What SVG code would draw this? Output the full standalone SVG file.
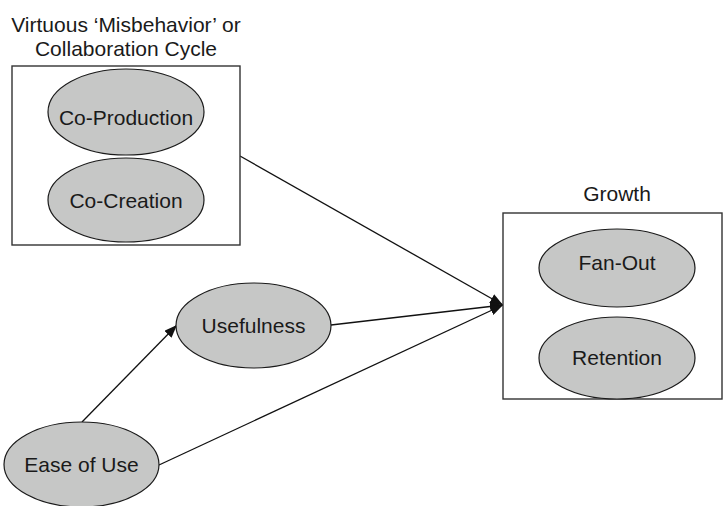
<svg xmlns="http://www.w3.org/2000/svg" width="724" height="506" viewBox="0 0 724 506">
<defs>
<style>
.box{fill:#fff;stroke:#333;stroke-width:1.4}
.el{fill:#c6c7c6;stroke:#1a1a1a;stroke-width:1.2}
.t{font-family:"Liberation Sans",Arial,sans-serif;font-size:21px;fill:#1a1a1a;text-anchor:middle}
.c{stroke:#111;stroke-width:1.3;fill:none;marker-end:url(#ah)}
</style>
<marker id="ah" markerWidth="13" markerHeight="10" refX="13" refY="5" orient="auto" markerUnits="userSpaceOnUse">
<path d="M0,0 L13,5 L0,10 z" fill="#111"/>
</marker>
</defs>
<rect width="724" height="506" fill="#fff"/>
<g id="connectors">
<line class="c" x1="240" y1="156" x2="503" y2="305"/>
<line class="c" x1="331" y1="325" x2="503" y2="305"/>
<line class="c" x1="159" y1="465" x2="503" y2="305"/>
<line class="c" x1="82" y1="422" x2="177" y2="325"/>
</g>
<g id="collab">
<text class="t" x="126" y="32">Virtuous ‘Misbehavior’ or</text>
<text class="t" x="126" y="56">Collaboration Cycle</text>
<rect class="box" x="12" y="66" width="228" height="179"/>
</g>
<g id="coproduction">
<ellipse class="el" cx="126" cy="112" rx="78" ry="43"/>
<text class="t" x="126" y="125">Co-Production</text>
</g>
<g id="cocreation">
<ellipse class="el" cx="126" cy="200" rx="78" ry="42"/>
<text class="t" x="126" y="208">Co-Creation</text>
</g>
<g id="growth">
<text class="t" x="617" y="201">Growth</text>
<rect class="box" x="503" y="213" width="219" height="186"/>
</g>
<g id="fanout">
<ellipse class="el" cx="617" cy="268" rx="78" ry="39"/>
<text class="t" x="617" y="270">Fan-Out</text>
</g>
<g id="retention">
<ellipse class="el" cx="617" cy="358" rx="78" ry="41"/>
<text class="t" x="617" y="365">Retention</text>
</g>
<g id="usefulness">
<ellipse class="el" cx="253.5" cy="325.5" rx="77.5" ry="42.5"/>
<text class="t" x="253.5" y="333">Usefulness</text>
</g>
<g id="easeofuse">
<ellipse class="el" cx="81.5" cy="464.5" rx="77.5" ry="42.5"/>
<text class="t" x="81.5" y="472">Ease of Use</text>
</g>
</svg>
